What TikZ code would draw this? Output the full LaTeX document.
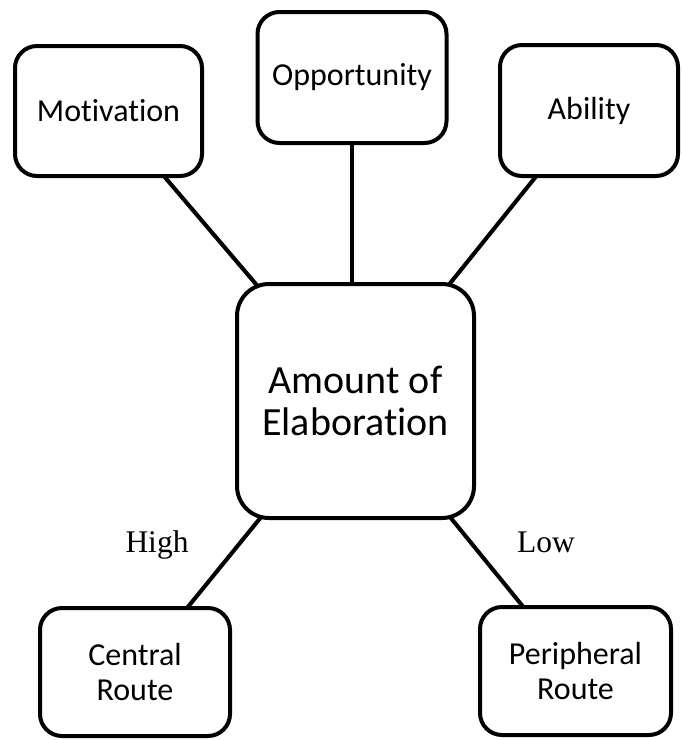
\documentclass[tikz,border=0pt]{standalone}
\usepackage{fontspec}
\setmainfont[Ligatures=NoCommon]{Carlito}
\newfontfamily\serifface{Liberation Serif}
\usetikzlibrary{backgrounds}

\tikzset{
  smallbox/.style={draw, line width=4pt, fill=white, rounded corners=22pt,
    align=center, inner sep=0pt,
    font=\fontsize{32}{35}\selectfont},
  bigbox/.style={draw, line width=4pt, fill=white, rounded corners=32pt,
    align=center, inner sep=0pt,
    font=\fontsize{40}{42}\selectfont},
  link/.style={line width=4pt},
  linkshadow/.style={line width=4pt, draw=black!25},
  level/.style={anchor=base, font=\serifface\fontsize{31.5}{34}\selectfont}
}

\begin{document}
\begin{tikzpicture}[x=1pt, y=-1pt]
  \useasboundingbox (0,0) rectangle (682,740);

  % factors feeding elaboration
  \node[smallbox, minimum width=187pt, minimum height=130pt] (mot) at (108.5,111) {Motivation};
  \node[smallbox, minimum width=189pt, minimum height=131pt] (opp) at (352,77.5) {Opportunity};
  \node[smallbox, minimum width=178pt, minimum height=131pt] (abl) at (589,110.5) {Ability};

  % central node
  \node[bigbox, minimum width=237pt, minimum height=234pt] (elab) at (355.5,401) {Amount of\\Elaboration};

  % resulting routes
  \node[smallbox, minimum width=190pt, minimum height=128pt] (cen) at (135,672) {Central\\Route};
  \node[smallbox, minimum width=191pt, minimum height=128pt] (per) at (575.5,671) {Peripheral\\Route};

  % connectors run under the boxes
  \begin{scope}[on background layer]
    \begin{scope}[shift={(2,1.5)}]
      \draw[linkshadow] (mot.center) -- (elab.center);
      \draw[linkshadow] (abl.center) -- (elab.center);
      \draw[linkshadow] (opp.south) -- (opp.south |- elab.north);
      \draw[linkshadow] (cen.center) -- (elab.center);
      \draw[linkshadow] (per.center) -- (elab.center);
    \end{scope}
    \draw[link] (mot.center) -- (elab.center);
    \draw[link] (abl.center) -- (elab.center);
    \draw[link] (opp.south) -- (opp.south |- elab.north);
    \draw[link] (cen.center) -- (elab.center);
    \draw[link] (per.center) -- (elab.center);
  \end{scope}

  % route labels
  \node[level] (high) at (157,552) {High};
  \node[level] (low) at (546,552) {Low};
\end{tikzpicture}
\end{document}
